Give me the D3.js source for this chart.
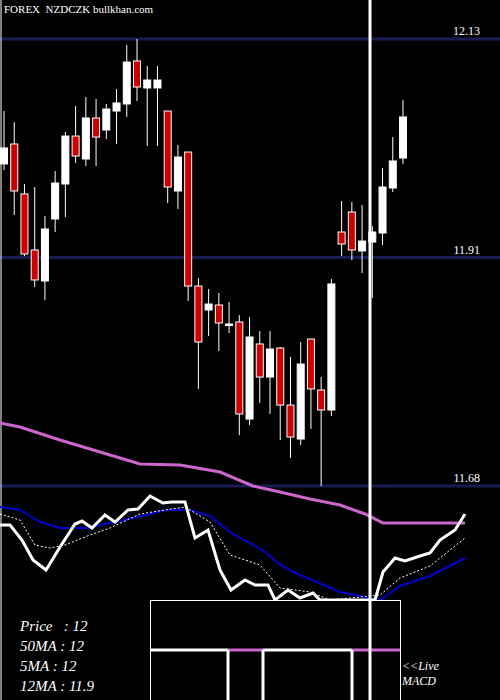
<!DOCTYPE html><html><head><meta charset="utf-8"><script src="https://cdn.jsdelivr.net/npm/d3@7"></script>
<style>body{margin:0;background:#000}text{white-space:pre}</style></head><body><svg id="c" width="500" height="700"></svg>
<script>
// price levels (labels)
const priceTicks=[12.13,11.91,11.68];
// candles in screen-calibrated price units via pixel readings converted by scale below
const pxOpen =[164,144,194,250,281,219,184,136,159,118,130,111,104,61,88,88,111,191,152,286,310,305,324,322,419,344,377,348,405,439,339,390,410,232,212,251,242,233,188,158];
const pxClose=[148,191,254,280,229,183,136,156,118,137,109,103,62,87,80,80,187,157,286,342,304,323,324,414,337,377,349,405,437,364,389,410,284,244,250,241,232,187,161,117];
const pxHigh =[111,122,184,187,216,171,132,106,97,99,104,89,45,39,66,66,111,145,152,278,289,293,302,315,317,331,331,347,357,342,339,377,279,201,202,205,226,168,137,100];
const pxLow  =[170,215,256,287,300,232,217,163,166,166,139,144,117,101,146,146,203,209,301,389,336,351,333,435,425,403,414,440,458,445,429,486,416,256,260,273,298,245,192,164];
const y=d3.scaleLinear().domain([11.68,12.13]).range([486,39]);
const toP=a=>a.map(v=>+y.invert(v).toFixed(4));
const opens=toP(pxOpen),closes=toP(pxClose),highs=toP(pxHigh),lows=toP(pxLow);
const ma50=[[0,423],[20,427],[60,440],[100,452],[140,464],[180,465],[220,472],[253,486],[280,492],[310,499],[340,505],[365,514],[383,523],[465,523]];
const macd=[[0,525],[10,525],[22,540],[33,560],[46,570],[60,547],[75,524],[82,521],[92,528],[105,515],[115,522],[128,510],[138,509],[150,496],[163,503],[172,502],[185,502],[195,538],[208,530],[220,570],[231,590],[245,580],[255,585],[268,585],[275,600],[288,590],[300,598],[313,593],[320,600],[375,600],[383,572],[395,558],[405,561],[420,556],[430,553],[440,540],[455,530],[465,514]];
const sig=[[0,507],[20,510],[40,522],[60,528],[90,528],[105,524],[120,521],[150,514],[165,510],[190,510],[210,516],[230,532],[265,552],[280,565],[300,575],[340,592],[370,598],[380,600],[400,586],[430,576],[465,558]];
const dot=[[0,514],[20,520],[35,545],[50,548],[65,545],[90,535],[110,528],[140,514],[165,510],[185,507],[210,522],[230,555],[260,565],[280,588],[310,592],[330,600],[380,595],[400,578],[430,566],[465,538]];
const legend=["Price   : 12","50MA : 12","5MA : 12","12MA : 11.9"];

const svg=d3.select("#c");
svg.append("rect").attr("width",500).attr("height",700).attr("fill","#000");
const x=d3.scaleLinear().domain([0,39]).range([4,403]);
priceTicks.forEach(t=>{
  svg.append("line").attr("x1",0).attr("x2",500).attr("y1",y(t)).attr("y2",y(t)).attr("stroke","#1c1c55").attr("stroke-width",3);
  svg.append("text").attr("x",480).attr("y",y(t)-4).attr("text-anchor","end").attr("fill","#fff").attr("font-family","Liberation Serif").attr("font-size",12).text(t.toFixed(2));
});
svg.append("line").attr("x1",1).attr("x2",1).attr("y1",0).attr("y2",700).attr("stroke","#fff").attr("stroke-width",1);
svg.append("text").attr("x",4).attr("y",13).attr("fill","#fff").attr("font-family","Liberation Serif").attr("font-size",11).text("FOREX  NZDCZK bullkhan.com");
const line=d3.line();
opens.forEach((o,i)=>{
  const c=closes[i],cx=x(i),up=c>=o;
  svg.append("line").attr("x1",cx).attr("x2",cx).attr("y1",y(highs[i])).attr("y2",y(lows[i])).attr("stroke","#fff").attr("stroke-width",1);
  const t=Math.min(y(o),y(c)),h=Math.max(1.5,Math.abs(y(o)-y(c)));
  svg.append("rect").attr("x",cx-3.5).attr("width",7).attr("y",t).attr("height",h).attr("fill",up?"#fff":"#cc0000").attr("stroke","#fff").attr("stroke-width",1);
});
svg.append("path").attr("d",line(ma50)).attr("fill","none").attr("stroke","#cc66cc").attr("stroke-width",3);
svg.append("path").attr("d",line(sig)).attr("fill","none").attr("stroke","#0000cc").attr("stroke-width",2);
svg.append("path").attr("d",line(dot)).attr("fill","none").attr("stroke","#fff").attr("stroke-width",1).attr("stroke-dasharray","2,2");
svg.append("path").attr("d",line(macd)).attr("fill","none").attr("stroke","#fff").attr("stroke-width",3);
svg.append("rect").attr("x",150.5).attr("y",600.5).attr("width",250).attr("height",100).attr("fill","#000").attr("stroke","#fff");
[[150,228,"#fff"],[228,263,"#cc66cc"],[263,352,"#fff"],[352,400,"#cc66cc"]].forEach(s=>svg.append("line").attr("x1",s[0]).attr("x2",s[1]).attr("y1",650).attr("y2",650).attr("stroke",s[2]).attr("stroke-width",3));
[228,263,352].forEach(v=>svg.append("line").attr("x1",v).attr("x2",v).attr("y1",650).attr("y2",700).attr("stroke","#fff").attr("stroke-width",3));
svg.append("line").attr("x1",370).attr("x2",370).attr("y1",0).attr("y2",700).attr("stroke","#fff").attr("stroke-width",3);
legend.forEach((t,i)=>svg.append("text").attr("x",20).attr("y",631+i*20).attr("fill","#fff").attr("font-family","Liberation Serif").attr("font-style","italic").attr("font-size",15).text(t));
["<<Live","MACD"].forEach((t,i)=>svg.append("text").attr("x",402).attr("y",670+i*15).attr("fill","#fff").attr("font-family","Liberation Serif").attr("font-style","italic").attr("font-size",12).text(t));
</script></body></html>
